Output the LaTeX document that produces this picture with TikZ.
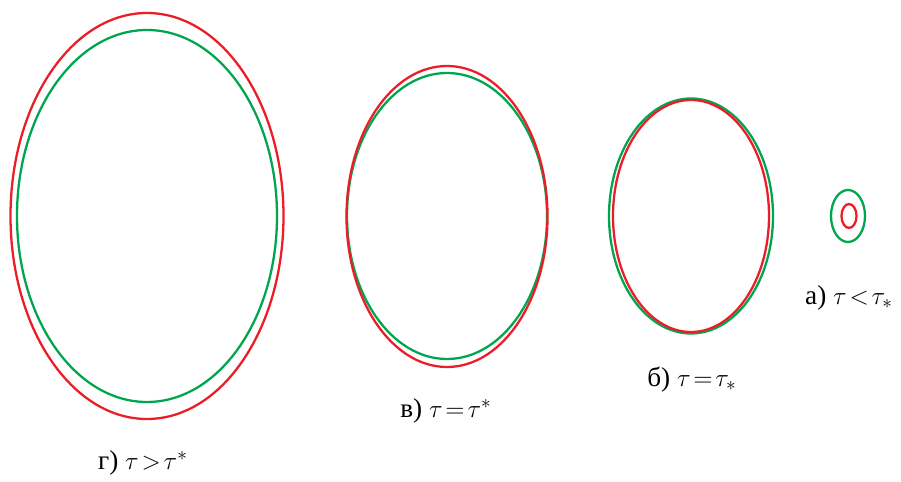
\documentclass[tikz,border=0pt]{standalone}
\usepackage{fontspec}
\setmainfont{Liberation Serif}
\usepackage{amsmath}
\usepackage{xcolor}

\definecolor{ringred}{RGB}{235,30,40}
\definecolor{ringgreen}{RGB}{0,165,80}
\newcommand{\capfont}{\fontsize{15.5}{17}\selectfont\thickmuskip=2mu\relax}

\begin{document}
\begin{tikzpicture}[x=0.02cm, y=-0.02cm,
    redring/.style={draw=ringred, line width=1.3pt},
    greenring/.style={draw=ringgreen, line width=1.3pt},
    caption/.style={font=\capfont, inner sep=0pt},
]
    \useasboundingbox (0,0) rectangle (901,482);

    % g) tau > tau^*
    \draw[greenring] (147,216) ellipse [x radius=130, y radius=186];
    \draw[redring] (147,216) ellipse [x radius=136.5, y radius=203];
    \node[caption] (capg) at (143,463) {г) $\tau>\tau^{*}$};

    % v) tau = tau^*
    \draw[greenring] (447,216) ellipse [x radius=100, y radius=143];
    \draw[redring] (447,216.5) ellipse [x radius=100.5, y radius=150.5];
    \node[caption] (capv) at (446,411) {в) $\tau=\tau^{*}$};

    % b) tau = tau_*
    \draw[greenring] (691,216) ellipse [x radius=82, y radius=117.5];
    \draw[redring] (691,216) ellipse [x radius=78, y radius=116];
    \node[caption] (capb) at (692,380) {б) $\tau=\tau_{*}$};

    % a) tau < tau_*
    \draw[greenring] (848,216) ellipse [x radius=17, y radius=26];
    \draw[redring] (849,216) ellipse [x radius=7.5, y radius=12];
    \node[caption] (capa) at (849,298) {а) $\tau<\tau_{*}$};
\end{tikzpicture}
\end{document}
